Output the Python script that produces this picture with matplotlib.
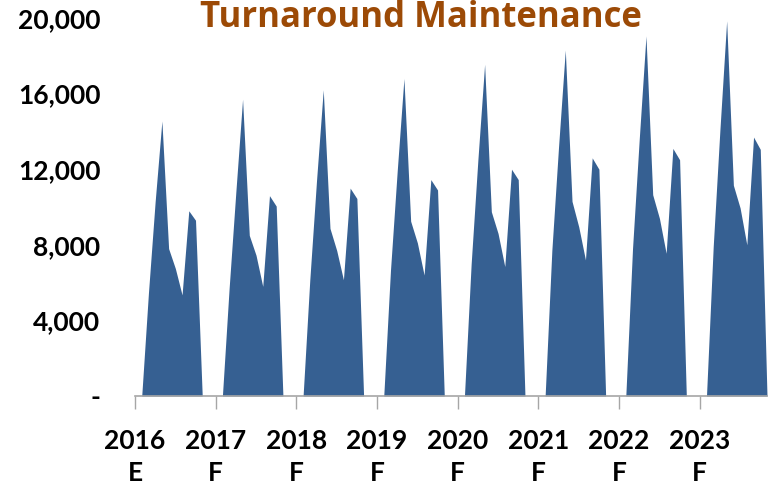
import numpy as np
import matplotlib
matplotlib.use("Agg")
from matplotlib import pyplot as plt

# monthly values, Jan..Dec (2023 ends in Nov)
v2016 = [0, 0, 5450, 10300, 14550, 7800, 6750, 5350, 9800, 9300, 0, 0]
v2017 = [0, 0, 5700, 10800, 15700, 8500, 7450, 5800, 10600, 10050, 0, 0]
v2018 = [0, 0, 6150, 11400, 16200, 8870, 7700, 6150, 11000, 10450, 0, 0]
v2019 = [0, 0, 6650, 11900, 16800, 9250, 8100, 6400, 11450, 10900, 0, 0]
v2020 = [0, 0, 7000, 12500, 17550, 9750, 8600, 6850, 12000, 11450, 0, 0]
v2021 = [0, 0, 7700, 13200, 18300, 10300, 8950, 7200, 12600, 12000, 0, 0]
v2022 = [0, 0, 7800, 13600, 19050, 10650, 9400, 7550, 13100, 12500, 0, 0]
v2023 = [0, 0, 7900, 14100, 19850, 11150, 9950, 8000, 13700, 13050, 0]

years = [2016, 2017, 2018, 2019, 2020, 2021, 2022, 2023]
suffix = ["E", "F", "F", "F", "F", "F", "F", "F"]
y_ticks = [0, 4000, 8000, 12000, 16000, 20000]
y_labels = ["-", "4,000", "8,000", "12,000", "16,000", "20,000"]

values = np.array(v2016 + v2017 + v2018 + v2019 + v2020 + v2021 + v2022 + v2023)
x = np.arange(len(values))

plt.rcParams['font.family'] = ['Lato', 'DejaVu Sans']
plt.rcParams['font.weight'] = 'bold'

fig = plt.figure(figsize=(7.69, 4.86), dpi=100)
ax = fig.add_axes([135 / 769, 90 / 486, 632 / 769, 378 / 486])

ax.fill_between(x, values, 0, color="#366092", linewidth=0)

ax.set_xlim(0, len(values) - 1)
ax.set_ylim(0, 20000)

ax.set_yticks(y_ticks)
ax.set_yticklabels(y_labels, fontsize=19, fontweight="bold")
ax.tick_params(axis="y", length=0, pad=25)

ax.set_xticks([12 * i for i in range(len(years))])
ax.set_xticklabels(["{}\n{}".format(y, s) for y, s in zip(years, suffix)],
                   fontsize=19, fontweight="bold", linespacing=1.4)
ax.tick_params(axis="x", length=9, width=1, color="#a6a6a6", pad=15)

for s in ["top", "right", "left"]:
    ax.spines[s].set_visible(False)
ax.spines["bottom"].set_color("#a6a6a6")
ax.spines["bottom"].set_linewidth(1.2)

fig.text(421 / 769, 1 - 18 / 486, "Turnaround Maintenance", color="#9c4a06",
         fontsize=25, fontweight="bold", family=["Open Sans", "DejaVu Sans"],
         ha="center", va="center")

plt.savefig("out.png")
